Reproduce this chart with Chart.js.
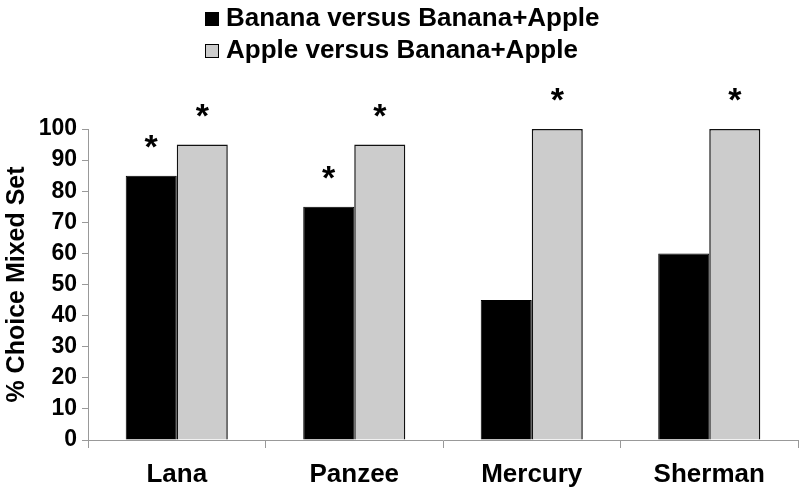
<!DOCTYPE html>
<html>
<head>
<meta charset="utf-8">
<script src="https://cdn.jsdelivr.net/npm/chart.js@4/dist/chart.umd.min.js"></script>
<style>
  html, body { margin: 0; padding: 0; background: #fff; }
  #wrap { width: 800px; height: 498px; }
</style>
</head>
<body>
<div id="wrap"><canvas id="choiceChart"></canvas></div>
<script>
// subjects and % choice of mixed set
var categories = ['Lana', 'Panzee', 'Mercury', 'Sherman'];
var bananaValues = [85, 75, 45, 60];
var appleValues = [95, 95, 100, 100];
// significance markers (*) per bar
var bananaStars = [true, true, false, false];
var appleStars = [true, true, true, true];
var yTicks = [0, 10, 20, 30, 40, 50, 60, 70, 80, 90, 100];

var FONT = '"Liberation Sans", Arial, sans-serif';

// stars drawn above the bars that are flagged
var starPlugin = {
  id: 'stars',
  afterDatasetsDraw: function (chart) {
    var ctx = chart.ctx;
    ctx.save();
    ctx.fillStyle = '#000';
    ctx.font = 'bold 34px ' + FONT;
    ctx.textAlign = 'center';
    ctx.textBaseline = 'middle';
    chart.data.datasets.forEach(function (ds, i) {
      var meta = chart.getDatasetMeta(i);
      meta.data.forEach(function (bar, j) {
        if (ds.stars[j]) ctx.fillText('*', bar.x, bar.y - 27);
      });
    });
    ctx.restore();
  }
};

// two-row legend, left aligned like the original
var legendPlugin = {
  id: 'stackedLegend',
  afterDraw: function (chart) {
    var ctx = chart.ctx;
    ctx.save();
    ctx.font = 'bold 26px ' + FONT;
    ctx.textBaseline = 'middle';
    chart.data.datasets.forEach(function (ds, i) {
      var y = 19 + i * 32;
      ctx.fillStyle = ds.backgroundColor;
      ctx.fillRect(205, y - 7, 14, 14);
      ctx.strokeStyle = '#000';
      ctx.lineWidth = 1;
      ctx.strokeRect(205.5, y - 6.5, 13, 13);
      ctx.fillStyle = '#000';
      ctx.fillText(ds.label, 226, y);
    });
    ctx.restore();
  }
};

new Chart(document.getElementById('choiceChart'), {
  type: 'bar',
  data: {
    labels: categories,
    datasets: [{
      label: 'Banana versus Banana+Apple',
      data: bananaValues,
      stars: bananaStars,
      backgroundColor: '#000000',
      borderColor: '#000000',
      borderWidth: 1,
      categoryPercentage: 0.575,
      barPercentage: 1.0
    }, {
      label: 'Apple versus Banana+Apple',
      data: appleValues,
      stars: appleStars,
      backgroundColor: '#cccccc',
      borderColor: '#111111',
      borderWidth: 1.5,
      categoryPercentage: 0.575,
      barPercentage: 1.0
    }]
  },
  options: {
    responsive: true,
    maintainAspectRatio: false,
    animation: false,
    layout: { padding: { top: 129, right: 2, bottom: 0, left: 0 } },
    plugins: {
      legend: { display: false },
      tooltip: { enabled: false }
    },
    scales: {
      x: {
        grid: { offset: true, drawOnChartArea: false, tickLength: 8, color: '#999' },
        border: { color: '#999' },
        ticks: { color: '#000', padding: 11, font: { family: FONT, size: 26, weight: 'bold' } },
        afterFit: function (scale) { scale.height = 58; }
      },
      y: {
        min: 0,
        max: 100,
        afterBuildTicks: function (scale) {
          scale.ticks = yTicks.map(function (v) { return { value: v }; });
        },
        grid: { drawOnChartArea: false, tickLength: 6, color: '#999' },
        border: { color: '#999' },
        ticks: { color: '#000', padding: 5, font: { family: FONT, size: 23, weight: 'bold' } },
        title: {
          display: true,
          text: '% Choice Mixed Set',
          color: '#000',
          padding: { top: 2, bottom: 2 },
          font: { family: FONT, size: 25, weight: 'bold' }
        },
        afterFit: function (scale) { scale.width = 88; }
      }
    }
  },
  plugins: [starPlugin, legendPlugin]
});
</script>
</body>
</html>
